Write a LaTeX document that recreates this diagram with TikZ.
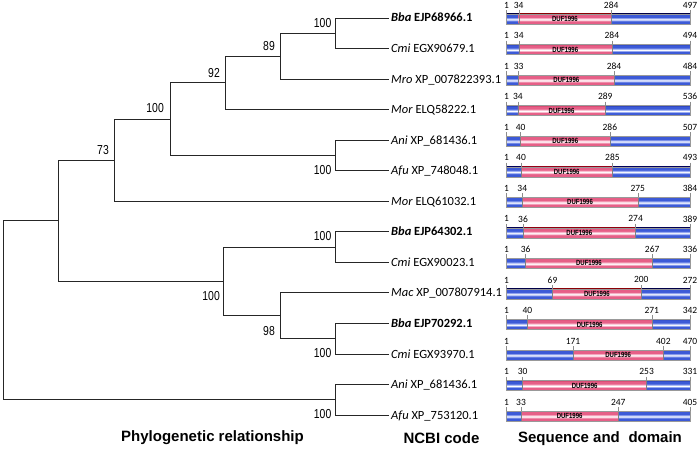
\documentclass[tikz,border=0pt]{standalone}
\usepackage{fontspec}
\setmainfont{Carlito}
\newfontfamily\bootfont{Liberation Sans}[FakeStretch=0.8]
\newfontfamily\titlefont{Liberation Sans}
\definecolor{bbdark}{RGB}{30,45,160}
\definecolor{bbblue}{RGB}{60,90,215}
\definecolor{bblight}{RGB}{170,185,245}
\definecolor{pkdark}{RGB}{195,45,85}
\definecolor{pkmid}{RGB}{230,95,135}
\definecolor{pklight}{RGB}{250,200,215}
\pgfdeclareverticalshading{bluebar}{100bp}{color(0bp)=(bbdark); color(25bp)=(bbdark);
  color(28bp)=(bbblue); color(38bp)=(bbblue); color(44bp)=(bblight); color(48bp)=(white); color(53bp)=(bblight);
  color(60bp)=(bbblue); color(72bp)=(bbblue); color(75bp)=(bbdark); color(100bp)=(bbdark)}
\pgfdeclareverticalshading{pinkbar}{100bp}{color(0bp)=(pkdark); color(25bp)=(pkdark);
  color(28bp)=(pkmid); color(38bp)=(pkmid); color(44bp)=(pklight); color(48bp)=(white); color(53bp)=(pklight);
  color(60bp)=(pkmid); color(72bp)=(pkmid); color(75bp)=(pkdark); color(100bp)=(pkdark)}
\tikzset{
  branch/.style={draw=black!85, line width=0.95pt},
  boot/.style={font=\bootfont\fontsize{13}{13}\selectfont, inner sep=0pt, anchor=east},
  leaf/.style={font=\fontsize{12.5}{13}\selectfont, anchor=west, inner sep=2pt, text height=9pt, text depth=1pt},
  seqpos/.style={font=\fontsize{9.5}{10}\selectfont, inner sep=0pt},
  duf/.style={font=\bootfont\bfseries\fontsize{7.5}{7.5}\selectfont, inner sep=0pt},
  seqtick/.style={draw=black!45, line width=0.4pt},
  heading/.style={font=\titlefont\bfseries\fontsize{15}{15}\selectfont, inner sep=0pt},
}
\begin{document}
\begin{tikzpicture}[x=1pt,y=-1pt]
\useasboundingbox (0,0) rectangle (697,449);

% leaves
\node[leaf] (l0) at (389,18) {\textbf{\textit{Bba} EJP68966.1}};
\node[leaf] (l1) at (389,48.55) {\textit{Cmi} EGX90679.1};
\node[leaf] (l2) at (389,79.1) {\textit{Mro} XP\_007822393.1};
\node[leaf] (l3) at (389,109.65) {\textit{Mor} ELQ58222.1};
\node[leaf] (l4) at (389,140.2) {\textit{Ani} XP\_681436.1};
\node[leaf] (l5) at (389,170.75) {\textit{Afu} XP\_748048.1};
\node[leaf] (l6) at (389,201.3) {\textit{Mor} ELQ61032.1};
\node[leaf] (l7) at (389,231.85) {\textbf{\textit{Bba} EJP64302.1}};
\node[leaf] (l8) at (389,262.4) {\textit{Cmi} EGX90023.1};
\node[leaf] (l9) at (389,292.95) {\textit{Mac} XP\_007807914.1};
\node[leaf] (l10) at (389,323.5) {\textbf{\textit{Bba} EJP70292.1}};
\node[leaf] (l11) at (389,354.05) {\textit{Cmi} EGX93970.1};
\node[leaf] (l12) at (389,384.6) {\textit{Ani} XP\_681436.1};
\node[leaf] (l13) at (389,415.15) {\textit{Afu} XP\_753120.1};

% inner nodes
\coordinate (root) at (3,310.4);
\coordinate (a) at (58.7,220.9);
\coordinate (n73) at (114,160.25);
\coordinate (n100) at (170,119.2);
\coordinate (n92) at (225,82.9);
\coordinate (n89) at (280,56.2);
\coordinate (p01) at (335,33.3);
\coordinate (p45) at (335,155.5);
\coordinate (b) at (223,281.5);
\coordinate (p78) at (335,247.1);
\coordinate (n98) at (280,315.9);
\coordinate (p1011) at (335,338.8);
\coordinate (p1213) at (335,399.9);

\draw[branch] (root) |- (a);
\draw[branch] (root) |- (p1213);
\draw[branch] (a) |- (n73);
\draw[branch] (a) |- (b);
\draw[branch] (n73) |- (n100);
\draw[branch] (n73) |- (l6.west);
\draw[branch] (n100) |- (n92);
\draw[branch] (n100) |- (p45);
\draw[branch] (n92) |- (n89);
\draw[branch] (n92) |- (l3.west);
\draw[branch] (n89) |- (p01);
\draw[branch] (n89) |- (l2.west);
\draw[branch] (p01) |- (l0.west);
\draw[branch] (p01) |- (l1.west);
\draw[branch] (p45) |- (l4.west);
\draw[branch] (p45) |- (l5.west);
\draw[branch] (b) |- (p78);
\draw[branch] (b) |- (n98);
\draw[branch] (p78) |- (l7.west);
\draw[branch] (p78) |- (l8.west);
\draw[branch] (n98) |- (l9.west);
\draw[branch] (n98) |- (p1011);
\draw[branch] (p1011) |- (l10.west);
\draw[branch] (p1011) |- (l11.west);
\draw[branch] (p1213) |- (l12.west);
\draw[branch] (p1213) |- (l13.west);

% bootstrap values
\node[boot] (bs01) at (331.5,23.3) {100};
\node[boot] (bs89) at (275,46.3) {89};
\node[boot] (bs92) at (220,72.7) {92};
\node[boot] (bs100) at (164,108.3) {100};
\node[boot] (bs73) at (109,150.3) {73};
\node[boot] (bs45) at (331.5,170.5) {100};
\node[boot] (bs78) at (331.5,236.2) {100};
\node[boot] (bsb) at (220,296.3) {100};
\node[boot] (bs98) at (275,331.2) {98};
\node[boot] (bs1011) at (331.5,353.3) {100};
\node[boot] (bs1213) at (331.5,414.5) {100};

% sequences with DUF1996 domain
\foreach \da/\db/\len [count=\i from 0] in {34/284/497, 34/284/494, 33/284/484, 34/289/536,
    40/286/507, 40/285/493, 34/275/384, 36/274/389, 36/267/336, 69/200/272,
    40/271/342, 171/402/470, 30/253/331, 33/247/405}{
  \pgfmathsetmacro\yy{19+30.55*\i}
  \pgfmathsetmacro\xa{506.5+(\da-1)/(\len-1)*183.5}
  \pgfmathsetmacro\xb{506.5+(\db-1)/(\len-1)*183.5}
  \shade[shading=bluebar] (506.5,\yy-5) rectangle (690,\yy+5);
  \shade[shading=pinkbar] (\xa,\yy-5) rectangle (\xb,\yy+5);
  \draw[draw=black!50, line width=0.4pt] (\xa,\yy-5) -- (\xa,\yy+5) (\xb,\yy-5) -- (\xb,\yy+5);
  \draw[draw=black!40, line width=0.4pt] (506.5,\yy-5) rectangle (690,\yy+5);
  \node[duf] (d\i) at ({(\xa+\xb)/2},\yy) {DUF1996};
  \foreach \xx in {506.5,\xa,\xb,690}
    \draw[seqtick] (\xx,\yy-9) -- (\xx,\yy-5);
  \node[seqpos] (s\i-1) at (506.5,\yy-14) {1};
  \node[seqpos] (s\i-a) at (\xa,\yy-14) {\da};
  \node[seqpos] (s\i-b) at (\xb,\yy-14) {\db};
  \node[seqpos] (s\i-n) at (690,\yy-14) {\len};
}

% headings
\node[heading] (tphy) at (212.5,438) {Phylogenetic relationship};
\node[heading] (tncbi) at (441.5,438) {NCBI code};
\node[heading] (tseq) at (600,439) {Sequence and\hspace{0.3em} domain};
\end{tikzpicture}
\end{document}
